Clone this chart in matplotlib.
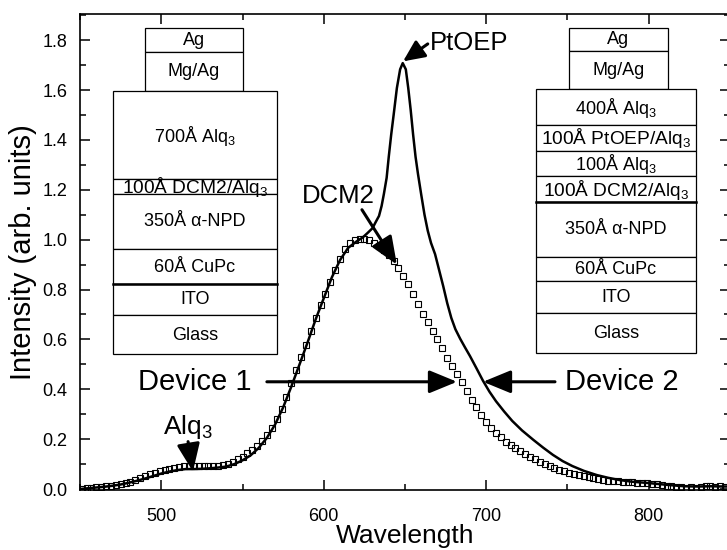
import matplotlib
matplotlib.use('Agg')
import matplotlib.pyplot as plt
from matplotlib.patches import Rectangle

plt.rcParams['font.family'] = ['Liberation Sans', 'DejaVu Sans']
plt.rcParams['mathtext.fontset'] = 'custom'
plt.rcParams['mathtext.rm'] = 'Liberation Sans'
plt.rcParams['mathtext.it'] = 'Liberation Sans:italic'
plt.rcParams['mathtext.bf'] = 'Liberation Sans:bold'

# ---------------- data ----------------
# Device 1 (open squares)
dev1_wl = [451, 454, 457, 460, 463, 466, 469, 472, 475, 478, 481, 484, 487, 490, 493, 496, 499,
           502, 505, 508, 511, 514, 517, 520, 523, 526, 529, 532, 535, 538, 541, 544, 547, 550,
           553, 556, 559, 562, 565, 568, 571, 574, 577, 580, 583, 586, 589, 592, 595, 598, 601,
           604, 607, 610, 613, 616, 619, 622, 625, 628, 631, 634, 637, 640, 643, 646, 649, 652,
           655, 658, 661, 664, 667, 670, 673, 676, 679, 682, 685, 688, 691, 694, 697, 700, 703,
           706, 709, 712, 715, 718, 721, 724, 727, 730, 733, 736, 739, 742, 745, 748, 751, 754,
           757, 760, 763, 766, 769, 772, 775, 778, 781, 784, 787, 790, 793, 796, 799, 802, 805,
           808, 811, 814, 817, 820, 823, 826, 829, 832, 835, 838, 841, 844, 847]
dev1_int = [0.000, 0.003, 0.006, 0.008, 0.010, 0.012, 0.014, 0.016, 0.020, 0.025, 0.030, 0.037,
            0.045, 0.052, 0.060, 0.066, 0.073, 0.077, 0.082, 0.086, 0.090, 0.093, 0.094, 0.093,
            0.093, 0.093, 0.093, 0.094, 0.094, 0.097, 0.102, 0.110, 0.120, 0.130, 0.143, 0.157,
            0.173, 0.193, 0.217, 0.245, 0.280, 0.322, 0.370, 0.425, 0.478, 0.528, 0.578, 0.632,
            0.686, 0.736, 0.781, 0.830, 0.880, 0.924, 0.963, 0.988, 1.000, 1.004, 1.003, 0.998,
            0.988, 0.975, 0.960, 0.938, 0.914, 0.885, 0.856, 0.821, 0.781, 0.740, 0.702, 0.668,
            0.635, 0.600, 0.564, 0.527, 0.492, 0.460, 0.430, 0.393, 0.356, 0.327, 0.297, 0.267,
            0.244, 0.224, 0.207, 0.190, 0.176, 0.163, 0.152, 0.141, 0.130, 0.119, 0.109, 0.100,
            0.092, 0.085, 0.077, 0.071, 0.065, 0.060, 0.056, 0.051, 0.047, 0.043, 0.040, 0.037,
            0.034, 0.032, 0.031, 0.030, 0.028, 0.027, 0.026, 0.024, 0.023, 0.022, 0.019, 0.016,
            0.013, 0.011, 0.009, 0.007, 0.006, 0.008, 0.005, 0.008, 0.013, 0.014, 0.010, 0.012,
            0.010]

# Device 2 (solid line)
dev2_wl = [450, 455, 460, 465, 470, 475, 480, 485, 490, 495, 500, 505, 510, 515, 520, 525, 530,
           535, 540, 545, 550, 555, 560, 565, 570, 575, 580, 585, 590, 595, 600, 605, 610, 615,
           620, 624, 627, 630, 632, 634, 635.6, 637, 638.7, 640, 641.5, 643, 645, 647, 648.6,
           650.5, 652, 653.5, 655, 656.5, 658, 660, 662, 664, 666, 668.5, 671, 673.5, 676, 678.5,
           681, 684, 687, 690, 694, 698, 702, 706, 711, 716, 722, 729, 735, 741, 747, 753, 760,
           768, 775, 782, 790, 798, 806, 814, 822, 830, 838, 846, 850]
dev2_int = [0.000, 0.003, 0.006, 0.009, 0.013, 0.018, 0.025, 0.033, 0.042, 0.052, 0.062, 0.070,
            0.076, 0.080, 0.080, 0.081, 0.083, 0.086, 0.090, 0.100, 0.115, 0.135, 0.165, 0.205,
            0.258, 0.327, 0.410, 0.498, 0.587, 0.680, 0.765, 0.849, 0.918, 0.967, 0.992, 1.009,
            1.027, 1.046, 1.071, 1.095, 1.135, 1.183, 1.248, 1.332, 1.421, 1.500, 1.608, 1.683,
            1.708, 1.683, 1.608, 1.520, 1.421, 1.332, 1.263, 1.180, 1.100, 1.036, 0.987, 0.942,
            0.878, 0.814, 0.745, 0.686, 0.641, 0.602, 0.567, 0.533, 0.484, 0.434, 0.390, 0.352,
            0.311, 0.273, 0.235, 0.197, 0.166, 0.137, 0.112, 0.092, 0.073, 0.056, 0.045, 0.036,
            0.029, 0.025, 0.020, 0.015, 0.011, 0.010, 0.011, 0.010, 0.010]

x_major = [500, 600, 700, 800]
x_minor = [450, 550, 650, 750, 850]
y_major = [0.0, 0.2, 0.4, 0.6, 0.8, 1.0, 1.2, 1.4, 1.6, 1.8]
y_minor = [0.1, 0.3, 0.5, 0.7, 0.9, 1.1, 1.3, 1.5, 1.7, 1.9]

stack1_labels = ['Ag', 'Mg/Ag', '700Å Alq$_3$', '100Å DCM2/Alq$_3$', '350Å α-NPD',
                 '60Å CuPc', 'ITO', 'Glass']
stack2_labels = ['Ag', 'Mg/Ag', '400Å Alq$_3$', '100Å PtOEP/Alq$_3$', '100Å Alq$_3$',
                 '100Å DCM2/Alq$_3$', '350Å α-NPD', '60Å CuPc', 'ITO', 'Glass']

# ---------------- figure ----------------
W, H = 727, 550
fig = plt.figure(figsize=(W / 100, H / 100), dpi=100)
ax = fig.add_axes([80 / W, 60 / H, 650 / W, 476 / H])

ax.plot(dev2_wl, dev2_int, '-', color='k', lw=1.8, zorder=2)
ax.plot(dev1_wl, dev1_int, 's', ms=4.6, mfc='none', mec='k', mew=0.8, zorder=3)

ax.set_xlim(450, 850)
ax.set_ylim(-0.004, 1.905)
ax.set_xticks(x_major)
ax.set_xticks(x_minor, minor=True)
ax.set_yticks(y_major)
ax.set_yticks(y_minor, minor=True)
ax.set_yticklabels([f'{v:.1f}' for v in y_major])
ax.tick_params(which='both', direction='in', top=True, right=True, width=1.1, labelsize=13)
ax.tick_params(which='major', length=7)
ax.tick_params(which='minor', length=4)
ax.tick_params(axis='x', which='major', pad=13)
ax.tick_params(axis='y', which='major', pad=9)
for s in ax.spines.values():
    s.set_linewidth(1.2)

ax.set_xlabel('Wavelength', fontsize=19, labelpad=-1)
ax.set_ylabel('Intensity (arb. units)', fontsize=21, labelpad=4)

arrow_kw = dict(arrowstyle='-|>,head_length=17,head_width=7', lw=2.2, color='k',
                shrinkA=0, shrinkB=0, mutation_scale=1)
arrow_small = dict(arrowstyle='-|>,head_length=13,head_width=6', lw=2.2, color='k',
                   shrinkA=0, shrinkB=0, mutation_scale=1)

ax.text(665.5, 1.79, 'PtOEP', fontsize=18.5, ha='left', va='center')
ax.annotate('', xy=(648.8, 1.715), xytext=(664, 1.785), arrowprops=arrow_small)

ax.text(586.6, 1.175, 'DCM2', fontsize=18.5, ha='left', va='center')
ax.annotate('', xy=(645, 0.90), xytext=(623.5, 1.12), arrowprops=arrow_kw)

ax.text(501, 0.25, 'Alq$_3$', fontsize=19, ha='left', va='center')
ax.annotate('', xy=(519.5, 0.07), xytext=(516.5, 0.19), arrowprops=arrow_kw)

ax.text(485.7, 0.43, 'Device 1', fontsize=21, ha='left', va='center')
ax.annotate('', xy=(682, 0.43), xytext=(565, 0.43), arrowprops=arrow_kw)

ax.text(748.5, 0.43, 'Device 2', fontsize=21, ha='left', va='center')
ax.annotate('', xy=(698, 0.43), xytext=(742.3, 0.43), arrowprops=arrow_kw)

# ---------------- device stacks (overlay in pixel coordinates) ----------------
ov = fig.add_axes([0, 0, 1, 1], zorder=5)
ov.set_xlim(0, W)
ov.set_ylim(H, 0)
ov.axis('off')
ov.patch.set_alpha(0)

def draw_stack(labels, top_x, body_x, bounds, thick, fs):
    for i, lab in enumerate(labels):
        x0, x1 = top_x if i < 2 else body_x
        y0, y1 = bounds[i], bounds[i + 1]
        ov.add_patch(Rectangle((x0, y0), x1 - x0, y1 - y0, facecolor='white',
                               edgecolor='k', lw=0.9))
        f = fs + 0.8 if len(lab) > 14 else fs
        ov.text((x0 + x1) / 2, (y0 + y1) / 2 + 0.5, lab, fontsize=f, ha='center', va='center')
    for yb in thick:
        ov.plot(body_x, [yb, yb], color='k', lw=1.8)

draw_stack(stack1_labels, (145, 243), (113, 277),
           [28, 52, 91, 179, 194, 249, 284, 315, 354], [284], 13)
draw_stack(stack2_labels, (569, 668), (536, 696),
           [28, 51, 89, 125, 151, 176, 202, 257, 281, 313, 353], [202], 13)

fig.savefig('out.png', dpi=100)
